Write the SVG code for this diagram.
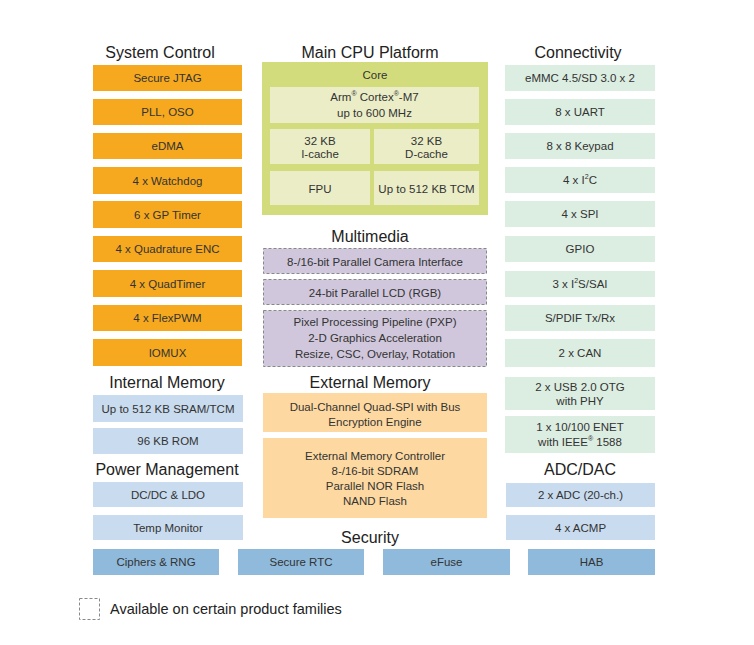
<svg xmlns="http://www.w3.org/2000/svg" width="754" height="645" viewBox="0 0 754 645">
<style>
text{font-family:"Liberation Sans",Arial,sans-serif;fill:#333;text-anchor:middle;dominant-baseline:central}
.t{font-size:11.5px}
.h{font-size:16px;fill:#222}
.sup{font-size:7px}
.or{fill:#f6a91f}
.bl{fill:#c9dbee}
.sec{fill:#8fbadc}
.gr{fill:#dcede1}
.core{fill:#d3dc7c}
.ci{fill:#eaedc6}
.mm{fill:#d0c7dc;stroke:#888;stroke-width:1;stroke-dasharray:3,2}
.em{fill:#fdd9a1}
</style>
<rect width="754" height="645" fill="#fff"/>
<g id="titles">
<text class="h" x="160" y="52">System Control</text>
<text class="h" x="370" y="52">Main CPU Platform</text>
<text class="h" x="578" y="52">Connectivity</text>
<text class="h" x="370" y="236">Multimedia</text>
<text class="h" x="167" y="382">Internal Memory</text>
<text class="h" x="370" y="382">External Memory</text>
<text class="h" x="167" y="469">Power Management</text>
<text class="h" x="580" y="469">ADC/DAC</text>
<text class="h" x="370" y="537">Security</text>
</g>
<g id="system-control">
<g id="sc1"><rect class="or" x="93" y="65" width="149" height="26"/><text class="t" x="167.5" y="78">Secure JTAG</text></g>
<g id="sc2"><rect class="or" x="93" y="99" width="149" height="26"/><text class="t" x="167.5" y="112">PLL, OSO</text></g>
<g id="sc3"><rect class="or" x="93" y="133" width="149" height="26"/><text class="t" x="167.5" y="146">eDMA</text></g>
<g id="sc4"><rect class="or" x="93" y="167" width="149" height="27"/><text class="t" x="167.5" y="180.5">4 x Watchdog</text></g>
<g id="sc5"><rect class="or" x="93" y="201" width="149" height="27"/><text class="t" x="167.5" y="214.5">6 x GP Timer</text></g>
<g id="sc6"><rect class="or" x="93" y="236" width="149" height="26"/><text class="t" x="167.5" y="249">4 x Quadrature ENC</text></g>
<g id="sc7"><rect class="or" x="93" y="270" width="149" height="27"/><text class="t" x="167.5" y="283.5">4 x QuadTimer</text></g>
<g id="sc8"><rect class="or" x="93" y="305" width="149" height="26"/><text class="t" x="167.5" y="318">4 x FlexPWM</text></g>
<g id="sc9"><rect class="or" x="93" y="339" width="149" height="27"/><text class="t" x="167.5" y="352.5">IOMUX</text></g>
</g>
<g id="internal-memory">
<g id="im1"><rect class="bl" x="93" y="395" width="150" height="27"/><text class="t" x="168" y="408.5">Up to 512 KB SRAM/TCM</text></g>
<g id="im2"><rect class="bl" x="93" y="428" width="150" height="26"/><text class="t" x="168" y="441">96 KB ROM</text></g>
</g>
<g id="power">
<g id="pm1"><rect class="bl" x="93" y="482" width="150" height="25"/><text class="t" x="168" y="494.5">DC/DC &amp; LDO</text></g>
<g id="pm2"><rect class="bl" x="93" y="515" width="150" height="25"/><text class="t" x="168" y="527.5">Temp Monitor</text></g>
</g>
<g id="core">
<rect class="core" x="262" y="62" width="226" height="153"/>
<text class="t" x="375" y="75">Core</text>
<g id="arm"><rect class="ci" x="270" y="87" width="209" height="36"/>
<text class="t" x="374.5" y="97">Arm<tspan class="sup" dy="-4">®</tspan><tspan dy="4"> Cortex</tspan><tspan class="sup" dy="-4">®</tspan><tspan dy="4">-M7</tspan></text>
<text class="t" x="374.5" y="113">up to 600 MHz</text></g>
<g id="icache"><rect class="ci" x="270" y="129" width="100" height="35"/><text class="t" x="320" y="140.5">32 KB</text><text class="t" x="320" y="154">I-cache</text></g>
<g id="dcache"><rect class="ci" x="374" y="129" width="105" height="35"/><text class="t" x="426.5" y="140.5">32 KB</text><text class="t" x="426.5" y="154">D-cache</text></g>
<g id="fpu"><rect class="ci" x="270" y="171" width="100" height="34"/><text class="t" x="320" y="189">FPU</text></g>
<g id="tcm"><rect class="ci" x="374" y="171" width="105" height="34"/><text class="t" x="426.5" y="189">Up to 512 KB TCM</text></g>
</g>
<g id="multimedia">
<g id="mm1"><rect class="mm" x="263.5" y="248.5" width="223" height="25"/><text class="t" x="375" y="262">8-/16-bit Parallel Camera Interface</text></g>
<g id="mm2"><rect class="mm" x="263.5" y="279.5" width="223" height="25"/><text class="t" x="375" y="292.5">24-bit Parallel LCD (RGB)</text></g>
<g id="mm3"><rect class="mm" x="263.5" y="310.5" width="223" height="56"/><text class="t" x="375" y="322">Pixel Processing Pipeline (PXP)</text><text class="t" x="375" y="338">2-D Graphics Acceleration</text><text class="t" x="375" y="354">Resize, CSC, Overlay, Rotation</text></g>
</g>
<g id="external-memory">
<g id="em1"><rect class="em" x="263" y="393" width="224" height="39"/><text class="t" x="375" y="406.5">Dual-Channel Quad-SPI with Bus</text><text class="t" x="375" y="421.5">Encryption Engine</text></g>
<g id="em2"><rect class="em" x="263" y="438" width="224" height="80"/><text class="t" x="375" y="456">External Memory Controller</text><text class="t" x="375" y="471">8-/16-bit SDRAM</text><text class="t" x="375" y="486">Parallel NOR Flash</text><text class="t" x="375" y="501">NAND Flash</text></g>
</g>
<g id="connectivity">
<g id="c1"><rect class="gr" x="505" y="65" width="150" height="26"/><text class="t" x="580" y="78">eMMC 4.5/SD 3.0 x 2</text></g>
<g id="c2"><rect class="gr" x="505" y="99" width="150" height="26"/><text class="t" x="580" y="112">8 x UART</text></g>
<g id="c3"><rect class="gr" x="505" y="133" width="150" height="26"/><text class="t" x="580" y="146">8 x 8 Keypad</text></g>
<g id="c4"><rect class="gr" x="505" y="167" width="150" height="26"/><text class="t" x="580" y="180">4 x I<tspan class="sup" dy="-4">2</tspan><tspan dy="4">C</tspan></text></g>
<g id="c5"><rect class="gr" x="505" y="201" width="150" height="26"/><text class="t" x="580" y="214">4 x SPI</text></g>
<g id="c6"><rect class="gr" x="505" y="236" width="150" height="26"/><text class="t" x="580" y="249">GPIO</text></g>
<g id="c7"><rect class="gr" x="505" y="271" width="150" height="26"/><text class="t" x="580" y="284">3 x I<tspan class="sup" dy="-4">2</tspan><tspan dy="4">S/SAI</tspan></text></g>
<g id="c8"><rect class="gr" x="505" y="305" width="150" height="26"/><text class="t" x="580" y="318">S/PDIF Tx/Rx</text></g>
<g id="c9"><rect class="gr" x="505" y="339" width="150" height="28"/><text class="t" x="580" y="353">2 x CAN</text></g>
<g id="c10"><rect class="gr" x="505" y="377" width="150" height="33"/><text class="t" x="580" y="386.5">2 x USB 2.0 OTG</text><text class="t" x="580" y="401">with PHY</text></g>
<g id="c11"><rect class="gr" x="505" y="416" width="150" height="37"/><text class="t" x="580" y="426.5">1 x 10/100 ENET</text><text class="t" x="580" y="442">with IEEE<tspan class="sup" dy="-4">®</tspan><tspan dy="4"> 1588</tspan></text></g>
</g>
<g id="adc">
<g id="a1"><rect class="bl" x="506" y="483" width="149" height="24"/><text class="t" x="580.5" y="495">2 x ADC (20-ch.)</text></g>
<g id="a2"><rect class="bl" x="506" y="515" width="149" height="25"/><text class="t" x="580.5" y="527.5">4 x ACMP</text></g>
</g>
<g id="security">
<g id="s1"><rect class="sec" x="93" y="549" width="126" height="26"/><text class="t" x="156" y="562">Ciphers &amp; RNG</text></g>
<g id="s2"><rect class="sec" x="238" y="549" width="126" height="26"/><text class="t" x="301" y="562">Secure RTC</text></g>
<g id="s3"><rect class="sec" x="383" y="549" width="127" height="26"/><text class="t" x="446.5" y="562">eFuse</text></g>
<g id="s4"><rect class="sec" x="528" y="549" width="127" height="26"/><text class="t" x="591.5" y="562">HAB</text></g>
</g>
<g id="legend">
<rect x="79.5" y="598.5" width="20" height="21" fill="none" stroke="#888" stroke-dasharray="3,2"/>
<text x="110" y="609" style="font-size:14.5px;text-anchor:start;fill:#222">Available on certain product families</text>
</g>
</svg>
